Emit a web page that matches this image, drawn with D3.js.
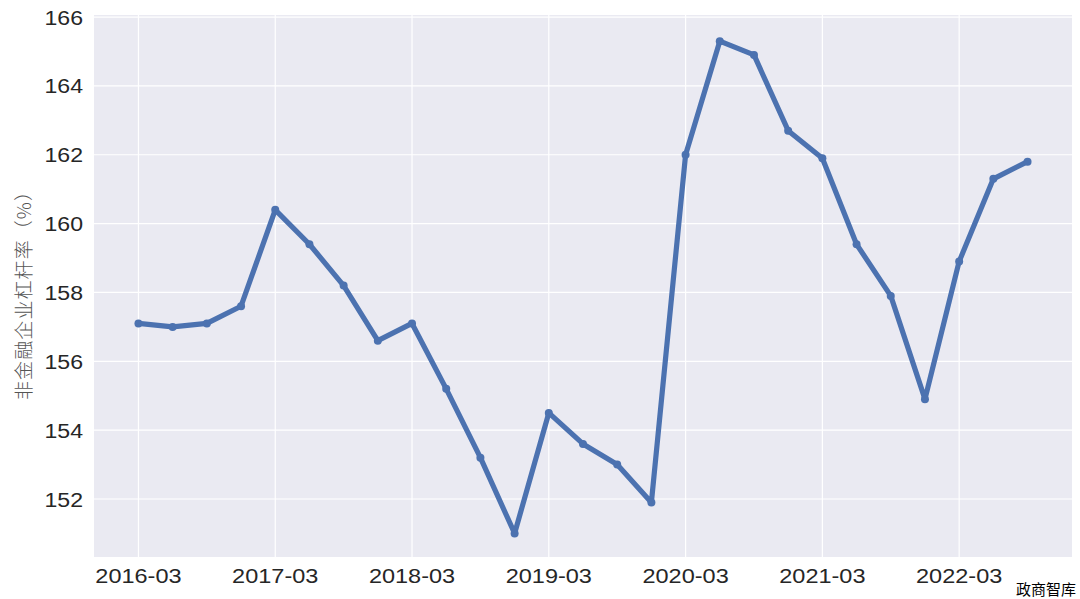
<!DOCTYPE html>
<html>
<head>
<meta charset="utf-8">
<script src="https://cdn.jsdelivr.net/npm/d3@7"></script>
<style>
  body { margin: 0; background: #fff; }
  svg { display: block; }
</style>
</head>
<body>
<div id="container"></div>
<script>
// quarterly data
var quarters = ["2016-03","2016-06","2016-09","2016-12",
                "2017-03","2017-06","2017-09","2017-12",
                "2018-03","2018-06","2018-09","2018-12",
                "2019-03","2019-06","2019-09","2019-12",
                "2020-03","2020-06","2020-09","2020-12",
                "2021-03","2021-06","2021-09","2021-12",
                "2022-03","2022-06","2022-09"]
var leverage = [157.1, 157.0, 157.1, 157.6,
                160.4, 159.4, 158.2, 156.6,
                157.1, 155.2, 153.2, 151.0,
                154.5, 153.6, 153.0, 151.9,
                162.0, 165.3, 164.9, 162.7,
                161.9, 159.4, 157.9, 154.9,
                158.9, 161.3, 161.8]
var xTickLabels = ["2016-03","2017-03","2018-03","2019-03","2020-03","2021-03","2022-03"]
var yTicks = [152, 154, 156, 158, 160, 162, 164, 166]

var width = 1080
var height = 599
var margin = {top: 15, right: 8, bottom: 42, left: 94}

var svg = d3.select("#container")
  .append("svg")
  .attr("width", width)
  .attr("height", height)

var x = d3.scaleLinear()
  .domain([-1.3, 27.3])
  .range([margin.left, width - margin.right])

var y = d3.scaleLinear()
  .domain([150.315, 166.06])
  .range([height - margin.bottom, margin.top])

// background
svg.append("rect")
  .attr("x", margin.left)
  .attr("y", margin.top)
  .attr("width", width - margin.left - margin.right)
  .attr("height", height - margin.top - margin.bottom)
  .attr("fill", "#eaeaf2")

// grid lines
svg.append("g")
  .selectAll("line")
  .data(yTicks)
  .enter()
  .append("line")
  .attr("x1", margin.left)
  .attr("x2", width - margin.right)
  .attr("y1", function(d) { return y(d) })
  .attr("y2", function(d) { return y(d) })
  .attr("stroke", "#fff")
  .attr("stroke-width", 1.2)

svg.append("g")
  .selectAll("line")
  .data(xTickLabels)
  .enter()
  .append("line")
  .attr("x1", function(d) { return x(quarters.indexOf(d)) })
  .attr("x2", function(d) { return x(quarters.indexOf(d)) })
  .attr("y1", margin.top)
  .attr("y2", height - margin.bottom)
  .attr("stroke", "#fff")
  .attr("stroke-width", 1.2)

// tick labels (slightly stretched, like the original)
svg.append("g")
  .selectAll("text")
  .data(yTicks)
  .enter()
  .append("text")
  .attr("transform", function(d) { return "translate(" + (margin.left - 11) + "," + y(d) + ") scale(1.1,1)" })
  .attr("dy", "0.36em")
  .attr("text-anchor", "end")
  .attr("font-family", "'Liberation Sans', Arial, sans-serif")
  .attr("font-size", 21)
  .attr("fill", "#262626")
  .text(function(d) { return d })

svg.append("g")
  .selectAll("text")
  .data(xTickLabels)
  .enter()
  .append("text")
  .attr("transform", function(d) { return "translate(" + x(quarters.indexOf(d)) + "," + 583 + ") scale(1.12,1)" })
  .attr("text-anchor", "middle")
  .attr("font-family", "'Liberation Sans', Arial, sans-serif")
  .attr("font-size", 21)
  .attr("fill", "#262626")
  .text(function(d) { return d })

// y axis label
svg.append("text")
  .attr("transform", "translate(31,291) rotate(-90)")
  .attr("text-anchor", "middle")
  .attr("font-family", "'Noto Sans CJK SC', sans-serif")
  .attr("font-weight", 300)
  .attr("font-size", 19)
  .attr("textLength", 218)
  .attr("lengthAdjust", "spacing")
  .attr("fill", "#555")
  .text("非金融企业杠杆率（%）")

// line
var line = d3.line()
  .x(function(d, i) { return x(i) })
  .y(function(d) { return y(d) })

svg.append("path")
  .datum(leverage)
  .attr("d", line)
  .attr("fill", "none")
  .attr("stroke", "#4c72b0")
  .attr("stroke-width", 5.2)
  .attr("stroke-linejoin", "round")

svg.append("g")
  .selectAll("circle")
  .data(leverage)
  .enter()
  .append("circle")
  .attr("cx", function(d, i) { return x(i) })
  .attr("cy", function(d) { return y(d) })
  .attr("r", 4)
  .attr("fill", "#4c72b0")

// watermark
svg.append("text")
  .attr("x", 1076)
  .attr("y", 595)
  .attr("text-anchor", "end")
  .attr("font-family", "'Noto Sans CJK SC', serif")
  .attr("font-size", 15)
  .attr("fill", "#000")
  .text("政商智库")
</script>
</body>
</html>
